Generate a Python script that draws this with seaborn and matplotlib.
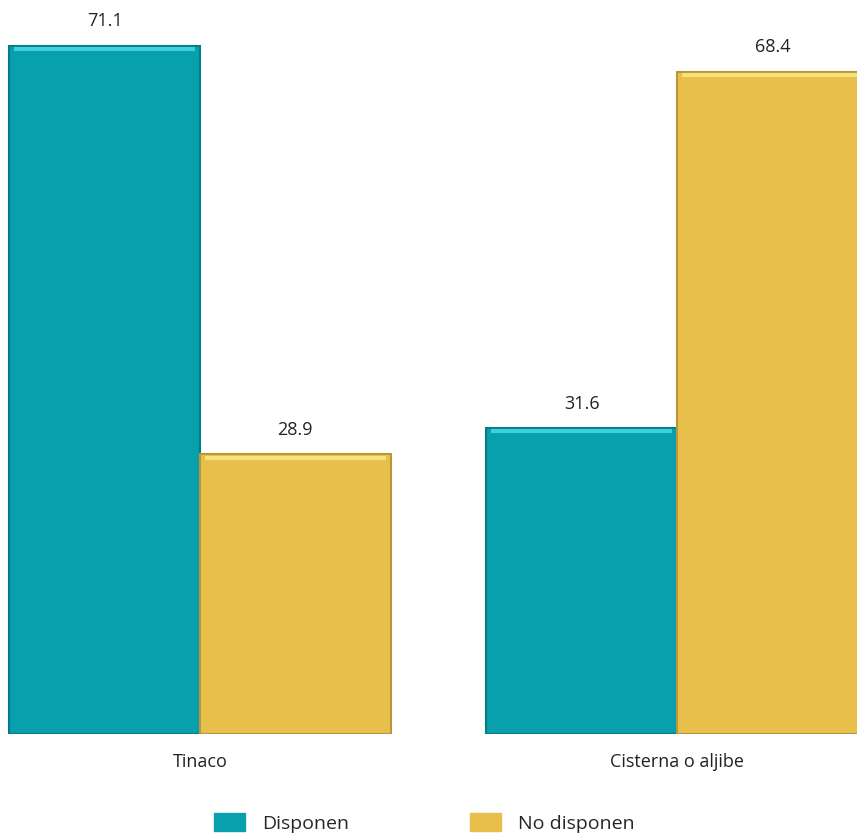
import pandas as pd
import matplotlib.pyplot as plt
import seaborn as sns

categorias = ["Tinaco", "Cisterna o aljibe"]
disponen = [71.1, 31.6]
no_disponen = [28.9, 68.4]
series = ["Disponen", "No disponen"]
colores = ["#08a0ad", "#e8bf4b"]
bordes = ["#067c86", "#b8963a"]
brillos = ["#3fd0dc", "#f8e07a"]

df = pd.DataFrame({
    "categoria": categorias * 2,
    "serie": [series[0]] * 2 + [series[1]] * 2,
    "valor": disponen + no_disponen,
})

sns.set_theme(style="white")
plt.rcParams['font.family'] = ['Open Sans', 'DejaVu Sans']

fig = plt.figure(figsize=(8.57, 8.35), dpi=100)
ax = fig.add_axes([0, 0.121, 1, 0.879])

sns.barplot(data=df, x="categoria", y="valor", hue="serie",
            palette=colores, width=0.8, saturation=1, ax=ax, legend=False)

# bevel look: darker outline plus a light strip along the top of each bar
for cont, borde, brillo in zip(ax.containers, bordes, brillos):
    for bar in cont:
        bar.set_edgecolor(borde)
        bar.set_linewidth(1.5)
        x0 = bar.get_x()
        w = bar.get_width()
        h = bar.get_height()
        ax.hlines(h - 0.35, x0 + 0.01, x0 + w - 0.01, color=brillo, lw=3, zorder=3)
    ax.bar_label(cont, fmt="%.1f", padding=11, fontsize=13, color="#222222")

ax.set_xlim(-0.419, 1.377)
ax.set_ylim(0, 75.8)
ax.set_xlabel("")
ax.set_ylabel("")
ax.set_yticks([])
ax.tick_params(axis="x", length=0, pad=14, labelsize=13, labelcolor="#222222")
sns.despine(ax=ax, left=True, bottom=True)

handles = [plt.Rectangle((0, 0), 1, 1, color=c) for c in colores]
fig.legend(handles, series, loc="lower center", bbox_to_anchor=(0.495, -0.018),
           ncol=2, frameon=False, fontsize=14, handlelength=1.6, handleheight=1.0,
           columnspacing=6.2, handletextpad=0.9)

fig.savefig("out.png", dpi=100)
